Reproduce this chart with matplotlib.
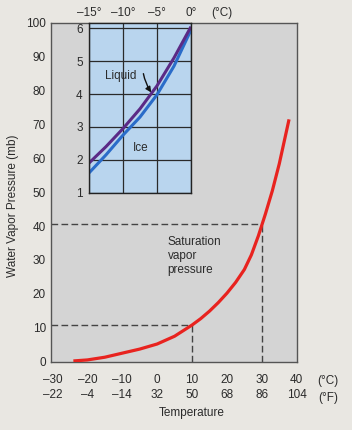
import matplotlib

matplotlib.use("Agg")
import matplotlib.pyplot as plt
from matplotlib.ticker import FixedLocator

plt.rcParams['font.family'] = ['Liberation Sans', 'DejaVu Sans']

# main curve: saturation vapour pressure (mb) vs temperature (°C)
temp_c = [-24, -20, -15, -10, -5, 0, 5, 10, 12.5, 15, 17.5, 20, 22.5, 25, 27,
          29, 30, 31, 33, 35, 37.8]
svp_mb = [0.2, 0.5, 1.3, 2.5, 3.7, 5.2, 7.5, 10.8, 12.7, 14.9, 17.4, 20.2,
          23.4, 27.2, 31.5, 37.1, 40.3, 43.5, 50.4, 58.4, 71.5]

c_ticks = [-30, -20, -10, 0, 10, 20, 30, 40]
c_labels = ['–30', '–20', '–10', '0', '10', '20', '30', '40']
f_labels = ['–22', '–4', '–14', '32', '50', '68', '86', '104']
c_marks = [-20, -10, 0, 10, 20, 30]
p_ticks = [0, 10, 20, 30, 40, 50, 60, 70, 80, 90, 100]
p_marks = [10, 20, 30, 40, 50, 60, 70, 80, 90]

# dashed guide lines
guide_t = [10, 30]
guide_p = [10.8, 40.6]

# inset: liquid vs ice, -15..0 °C
inset_t = [-15, -12.5, -10, -7.5, -5, -2.5, 0]
liquid_mb = [1.9, 2.4, 2.95, 3.55, 4.25, 5.1, 6.05]
ice_mb = [1.6, 2.15, 2.75, 3.3, 3.98, 4.85, 5.95]
inset_ticks = [-15, -10, -5, 0]
inset_labels = ['–15°', '–10°', '–5°', '0°']
inset_y = [1, 2, 3, 4, 5, 6]

BG = '#e9e7e2'
FACE = '#d4d4d4'
INSET_FACE = '#b9d5ee'
TXT = '#2b2b2b'
FS = 8.5

fig = plt.figure(figsize=(3.52, 4.30), dpi=100, facecolor=BG)
ax = fig.add_axes([0.144, 0.159, 0.699, 0.788])
ax.set_facecolor(FACE)
for s in ax.spines.values():
    s.set_color('#555555')
    s.set_linewidth(1.0)

ax.set_xlim(-30.5, 40)
ax.set_ylim(0, 100)

ax.xaxis.set_major_locator(FixedLocator(c_ticks))
ax.set_xticklabels([f"{c}\n{f}" for c, f in zip(c_labels, f_labels)])
ax.xaxis.set_minor_locator(FixedLocator(c_marks))
ax.yaxis.set_major_locator(FixedLocator(p_ticks))
ax.yaxis.set_minor_locator(FixedLocator(p_marks))
ax.tick_params(axis='x', which='major', length=0, pad=9, labelsize=FS,
               labelcolor=TXT)
ax.tick_params(axis='y', which='major', length=0, pad=3.5, labelsize=FS,
               labelcolor=TXT)
ax.tick_params(axis='x', which='minor', direction='in', length=7, width=1,
               color='#444444')
ax.tick_params(axis='y', which='minor', direction='in', length=9.5, width=1,
               color='#444444')
for lab in ax.get_xticklabels():
    lab.set_linespacing(1.35)

for t, p in zip(guide_t, guide_p):
    ax.plot([-30.5, t], [p, p], color='#444444', lw=1, dashes=(4.8, 2.4), zorder=2)
    ax.plot([t, t], [0, p], color='#444444', lw=1, dashes=(4.8, 2.4), zorder=2)

ax.plot(temp_c, svp_mb, color='#e8231f', lw=2.3, solid_capstyle='butt',
        solid_joinstyle='round', zorder=3)

ax.text(3, 37.2, "Saturation\nvapor\npressure", fontsize=FS, color=TXT,
        va='top', ha='left', linespacing=1.25)

fig.text(328 / 352, 1 - 381 / 430, "(°C)", fontsize=FS, color=TXT,
         ha='center', va='center')
fig.text(328 / 352, 1 - 398 / 430, "(°F)", fontsize=FS, color=TXT,
         ha='center', va='center')
fig.text(192 / 352, 1 - 413 / 430, "Temperature", fontsize=FS, color=TXT,
         ha='center', va='center')
fig.text(13 / 352, 1 - 206 / 430, "Water Vapor Pressure (mb)", fontsize=FS,
         color=TXT, ha='center', va='center', rotation=90)

# inset
axi = fig.add_axes([0.2528, 0.5519, 0.2898, 0.3953])
axi.set_facecolor(INSET_FACE)
for s in axi.spines.values():
    s.set_color('#222222')
    s.set_linewidth(1.0)
axi.set_xlim(-15, 0)
axi.set_ylim(1, 6.17)
axi.xaxis.tick_top()
axi.set_xticks(inset_ticks)
axi.set_xticklabels(inset_labels)
axi.set_yticks(inset_y)
axi.tick_params(axis='both', length=0, labelsize=FS, labelcolor=TXT)
axi.tick_params(axis='x', pad=3)
axi.tick_params(axis='y', pad=4.5)
axi.grid(True, color='#2a2a2a', lw=0.9)
axi.set_axisbelow(True)
axi.plot(inset_t, ice_mb, color='#2a6cc9', lw=2.2, solid_capstyle='butt')
axi.plot(inset_t, liquid_mb, color='#5b2a86', lw=2.2, solid_capstyle='butt')
axi.text(-10.4, 4.55, "Liquid", fontsize=FS, color=TXT, ha='center', va='center')
axi.annotate("", xy=(-5.85, 4.05), xytext=(-7.0, 4.62),
             arrowprops=dict(arrowstyle='-|>', color='#111111', lw=1.0,
                             mutation_scale=8, shrinkA=0, shrinkB=0,
                             connectionstyle='arc3,rad=0.1'))
axi.text(-7.35, 2.36, "Ice", fontsize=FS, color=TXT, ha='center', va='center')
fig.text(221.7 / 352, 1 - 13 / 430, "(°C)", fontsize=FS, color=TXT,
         ha='center', va='center')

fig.savefig("out.png", dpi=100, facecolor=BG)
